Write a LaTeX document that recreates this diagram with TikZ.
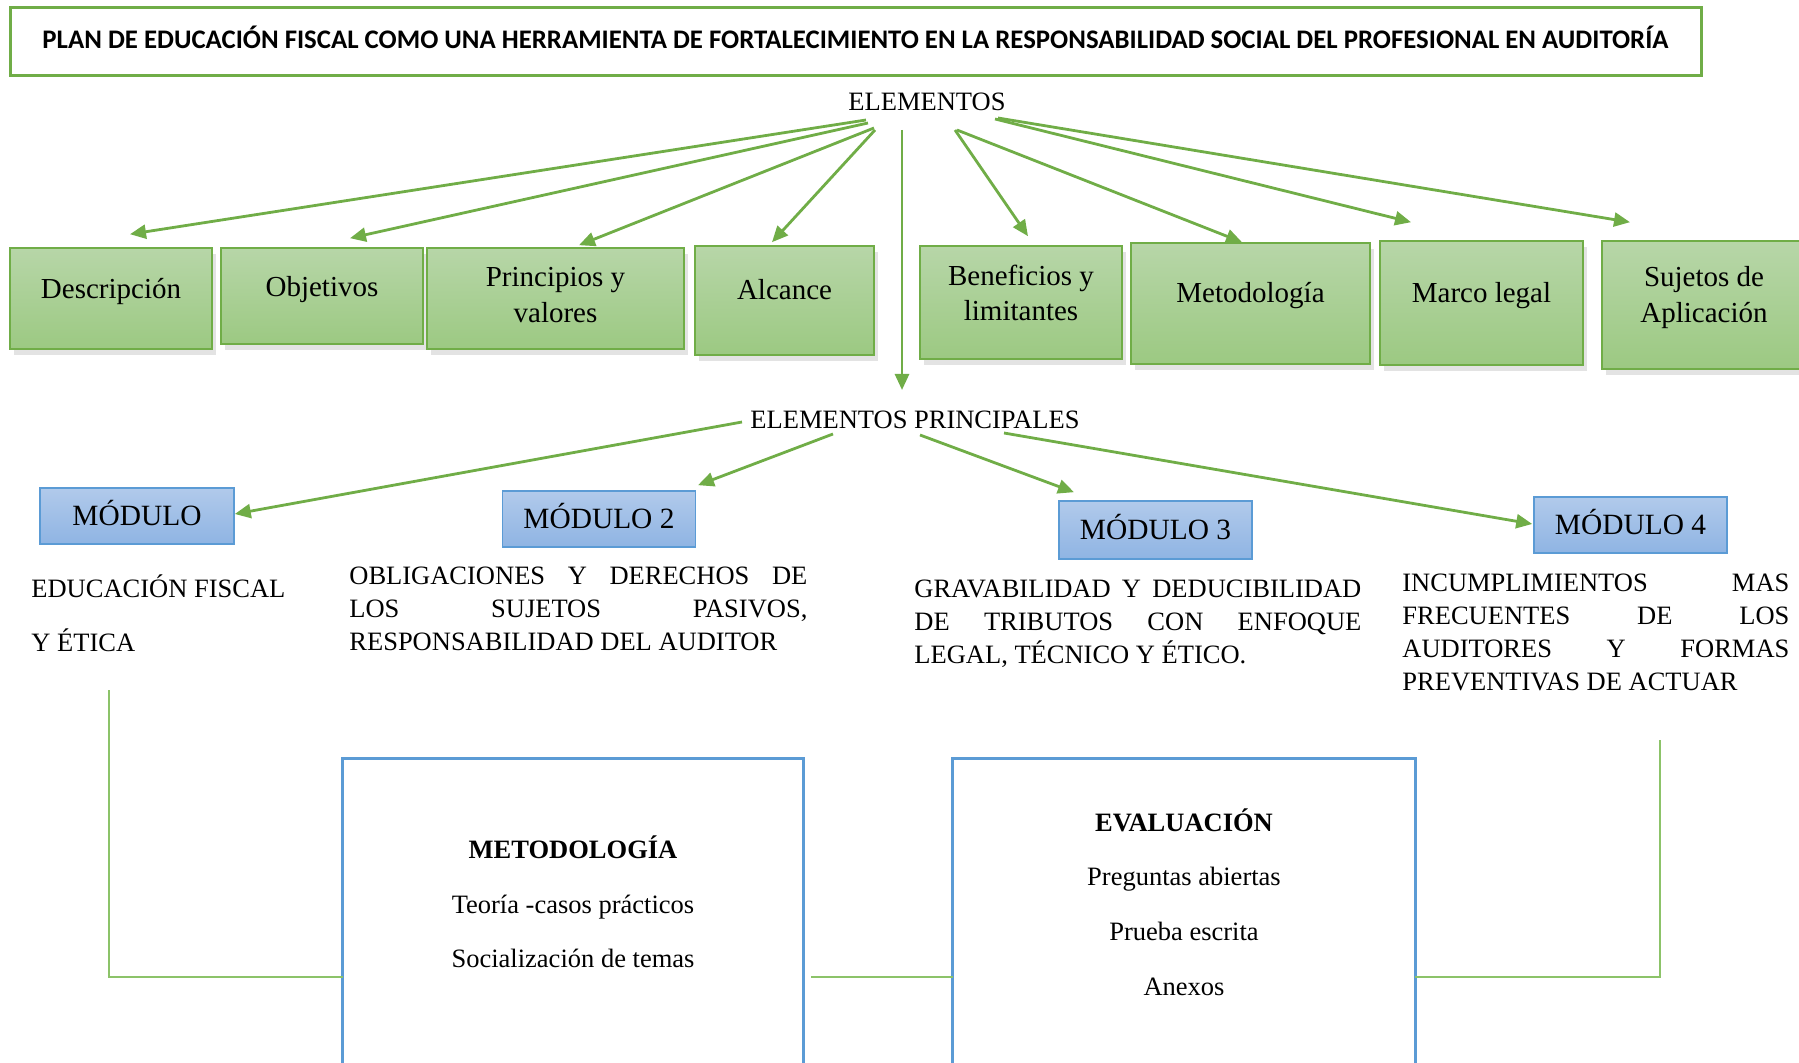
\documentclass[tikz,border=0pt]{standalone}
\usepackage{fontspec}
\setmainfont{Liberation Serif}
\newfontfamily\titlefont{Carlito}
\usetikzlibrary{arrows.meta,shadows}
\definecolor{gborder}{RGB}{112,173,71}
\definecolor{gtop}{RGB}{183,214,168}
\definecolor{gbot}{RGB}{156,201,130}
\definecolor{btop}{RGB}{177,202,235}
\definecolor{bbot}{RGB}{143,180,227}
\definecolor{bborder}{RGB}{91,155,213}
\definecolor{arrowg}{RGB}{112,173,71}
\definecolor{lineg}{RGB}{140,195,105}
\begin{document}
\begin{tikzpicture}[x=0.5pt,y=-0.5pt,
  gbox/.style={draw=gborder, line width=0.8pt, top color=gtop, bottom color=gbot, inner sep=0pt,
    drop shadow={shadow xshift=2pt, shadow yshift=-3pt, opacity=0.22}},
  gtxt/.style={inner sep=0pt, align=center, font=\fontsize{14.5pt}{17.8pt}\selectfont},
  bbox/.style={draw=bborder, line width=0.8pt, top color=btop, bottom color=bbot, inner sep=0pt,
    minimum width=96.5pt, minimum height=28pt, text height=9.7pt, text depth=0pt,
    font=\fontsize{14.7pt}{17pt}\selectfont},
  mtxt/.style={inner sep=0pt, align=left, font=\fontsize{13.25pt}{16.5pt}\selectfont},
  plain/.style={inner sep=0pt, font=\fontsize{13.25pt}{16pt}\selectfont},
  btxt/.style={inner sep=0pt, align=center, font=\fontsize{13.25pt}{27.3pt}\selectfont},
  garrow/.style={draw=arrowg, line width=1.4pt, -{Triangle[length=8pt,width=7pt]}},
  gline/.style={draw=lineg, line width=1pt},
  openbox/.style={draw=bborder, line width=1.3pt}
]
\useasboundingbox (0,0) rectangle (1799,1063);

% title
\node[draw=gborder, line width=1.5pt, minimum width=845.5pt, minimum height=34pt, inner sep=0pt] (title) at (855.5,42) {};
\node[inner sep=0pt] (title-t) at ([shift={(0,-5)}]title.center)
  {\titlefont\bfseries\fontsize{13.4pt}{15pt}\selectfont PLAN DE EDUCACIÓN FISCAL COMO UNA HERRAMIENTA DE FORTALECIMIENTO EN LA RESPONSABILIDAD SOCIAL DEL PROFESIONAL EN AUDITORÍA};

% level labels
\node[plain] (elem) at (927,102) {ELEMENTOS};
\node[plain] (ep) at (915,420) {ELEMENTOS PRINCIPALES};

% green boxes
\node[gbox, minimum width=101pt, minimum height=50.5pt] (desc) at (111,298.5) {};
\node[gbox, minimum width=101pt, minimum height=48pt] (obj) at (322,296) {};
\node[gbox, minimum width=128.5pt, minimum height=50.5pt] (princ) at (555.5,298.5) {};
\node[gbox, minimum width=89.5pt, minimum height=54.5pt] (alc) at (784.5,300.5) {};
\node[gbox, minimum width=101pt, minimum height=56.5pt] (benef) at (1021,302.5) {};
\node[gbox, minimum width=119.5pt, minimum height=60.5pt] (metod) at (1250.5,303.5) {};
\node[gbox, minimum width=101.5pt, minimum height=62pt] (marco) at (1481.5,303) {};
\node[gbox, minimum width=104pt, minimum height=64pt] (suj) at (1706,305) {};

\node[gtxt] (desc-t) at ([shift={(0,-7)}]desc.center) {Descripción};
\node[gtxt] (obj-t) at ([shift={(0,-6.5)}]obj.center) {Objetivos};
\node[gtxt] (princ-t) at ([shift={(0,-3.5)}]princ.center) {Principios y\\valores};
\node[gtxt] (alc-t) at ([shift={(0,-10.5)}]alc.center) {Alcance};
\node[gtxt] (benef-t) at ([shift={(0,-9.5)}]benef.center) {Beneficios y\\limitantes};
\node[gtxt] (metod-t) at ([shift={(0,-7.5)}]metod.center) {Metodología};
\node[gtxt] (marco-t) at ([shift={(0,-7)}]marco.center) {Marco legal};
\node[gtxt] (suj-t) at ([shift={(-2,-7.5)}]suj.center) {Sujetos de\\Aplicación};

% arrows from ELEMENTOS
\draw[garrow] ([shift={(-61,18)}]elem.center) -- ([shift={(19,-13)}]desc.north);
\draw[garrow] ([shift={(-59,21)}]elem.center) -- ([shift={(28,-9)}]obj.north);
\draw[garrow] ([shift={(-53,26)}]elem.center) -- ([shift={(23.5,-2)}]princ.north);
\draw[garrow] ([shift={(-52,28)}]elem.center) -- ([shift={(-12.5,-3)}]alc.north);
\draw[garrow] ([shift={(-25,28)}]elem.center) -- ([shift={(-13,-30)}]ep.center);
\draw[garrow] ([shift={(28,28)}]elem.center) -- ([shift={(7,-9)}]benef.north);
\draw[garrow] ([shift={(30,28)}]elem.center) -- ([shift={(-8.5,0)}]metod.north);
\draw[garrow] ([shift={(68,17)}]elem.center) -- ([shift={(-70.5,-18)}]marco.north);
\draw[garrow] ([shift={(71,16)}]elem.center) -- ([shift={(-76,-18)}]suj.north);

% modules
\node[bbox, minimum width=97pt] (m1) at (137,516) {MÓDULO};
\node[bbox] (m2) at (599,519) {MÓDULO 2};
\node[bbox, minimum height=29pt] (m3) at (1155.5,530) {MÓDULO 3};
\node[bbox] (m4) at (1630.5,525) {MÓDULO 4};

\draw[garrow] ([shift={(-173,2)}]ep.center) -- ([shift={(0,-2)}]m1.east);
\draw[garrow] ([shift={(-82,14)}]ep.center) -- ([shift={(99,-5)}]m2.north);
\draw[garrow] ([shift={(5,15)}]ep.center) -- ([shift={(-81.5,-8)}]m3.north);
\draw[garrow] ([shift={(89,13)}]ep.center) -- ([shift={(-1,-1)}]m4.west);

% module texts
\node[mtxt, anchor=west, font=\fontsize{13.25pt}{27pt}\selectfont] (m1t) at (31,613) {EDUCACIÓN FISCAL\\Y ÉTICA};
\node[mtxt, anchor=west] (m2t) at (349,608.5) {\makebox[229pt][s]{OBLIGACIONES Y DERECHOS DE}\\\makebox[229pt][s]{LOS SUJETOS PASIVOS,}\\RESPONSABILIDAD DEL AUDITOR};
\node[mtxt, anchor=west] (m3t) at (914,624) {\makebox[223.5pt][s]{GRAVABILIDAD Y DEDUCIBILIDAD}\\\makebox[223.5pt][s]{DE TRIBUTOS CON ENFOQUE}\\LEGAL, TÉCNICO Y ÉTICO.};
\node[mtxt, anchor=west] (m4t) at (1402,632) {\makebox[193.5pt][s]{INCUMPLIMIENTOS MAS}\\\makebox[193.5pt][s]{FRECUENTES DE LOS}\\\makebox[193.5pt][s]{AUDITORES Y FORMAS}\\PREVENTIVAS DE ACTUAR};

% lower boxes
\node[inner sep=0pt, minimum width=230pt, minimum height=152pt] (metbox) at (573,911) {};
\node[inner sep=0pt, minimum width=231pt, minimum height=152pt] (evbox) at (1184,911) {};
\draw[openbox] (metbox.south west) -- (metbox.north west) -- (metbox.north east) -- (metbox.south east);
\draw[openbox] (evbox.south west) -- (evbox.north west) -- (evbox.north east) -- (evbox.south east);
\node[btxt] (met-t) at (573,902) {\textbf{METODOLOGÍA}\\Teoría -casos prácticos\\Socialización de temas};
\node[btxt] (ev-t) at (1184,902) {\textbf{EVALUACIÓN}\\Preguntas abiertas\\Prueba escrita\\Anexos};

% connecting lines
\coordinate (ltop) at (109,690);
\coordinate (rtop) at (1660,740);
\draw[gline] (ltop) |- ([yshift=-33pt]metbox.west);
\draw[gline] ([shift={(8,66)}]metbox.east) -- ([yshift=-33pt]evbox.west);
\draw[gline] ([yshift=-33pt]evbox.east) -| (rtop);
\end{tikzpicture}
\end{document}
